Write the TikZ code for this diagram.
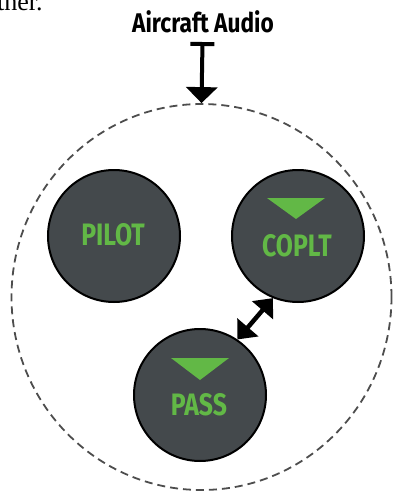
\documentclass[tikz,border=0pt]{standalone}
\usepackage{fontspec}
\setmainfont{Liberation Serif}
\newfontfamily\labelfont[FakeStretch=0.8]{Fira Sans}
\newfontfamily\titlefont[FakeStretch=0.84]{Fira Sans}
\usetikzlibrary{arrows.meta,shapes.geometric}
\definecolor{seatgreen}{HTML}{62B846}
\definecolor{seatfill}{HTML}{44494C}
\definecolor{ringgray}{HTML}{4D4D4D}
\begin{document}
\begin{tikzpicture}[x=1pt,y=-1pt,
  seat/.style={circle,draw=black,line width=2pt,fill=seatfill,minimum size=132pt,inner sep=0pt},
  seatlabel/.style={anchor=base,text=seatgreen,inner sep=0pt,font=\labelfont\bfseries\fontsize{31}{31}\selectfont},
  marker/.style={fill=seatgreen,draw=none},
  ring/.style={ellipse,draw=ringgray,line width=1.8pt,dash pattern=on 8pt off 5pt,minimum width=380pt,minimum height=386pt,inner sep=0pt},
  feed/.style={line width=4pt,{Bar[width=24pt,line width=4pt]}-{Triangle[width=31pt,length=16pt]}},
  link/.style={line width=4.5pt,{Triangle[width=27pt,length=16pt]}-{Triangle[width=27pt,length=16pt]}},
  title/.style={anchor=base,inner sep=0pt,font=\titlefont\bfseries\fontsize{27}{27}\selectfont}
]
\useasboundingbox (0,0) rectangle (392,491);
\node[anchor=base west,inner sep=0pt,font=\fontsize{26}{26}\selectfont] (prev) at (-3,10) {ther.};
\node[title] (audio) at (203,32) {Aircraft Audio};
\node[ring] (cabin) at (201.5,297) {};
\coordinate (feedtop) at (202.5,42);
\draw[feed] (feedtop) -- (cabin.north);
\node[seat] (pilot) at (114,236) {};
\node[seat] (coplt) at (298,236) {};
\node[seat] (pass) at (200,395) {};
\node[seatlabel] (pilottxt) at (113,245) {PILOT};
\node[seatlabel] (coplttxt) at (297,256) {COPLT};
\node[seatlabel] (passtxt) at (199,415) {PASS};
\fill[marker] (267,198) -- (325,198) -- (296,219) -- cycle;
\fill[marker] (171,358) -- (229,358) -- (200,380) -- cycle;
\draw[link] (pass.56) -- (coplt.248);
\end{tikzpicture}
\end{document}
